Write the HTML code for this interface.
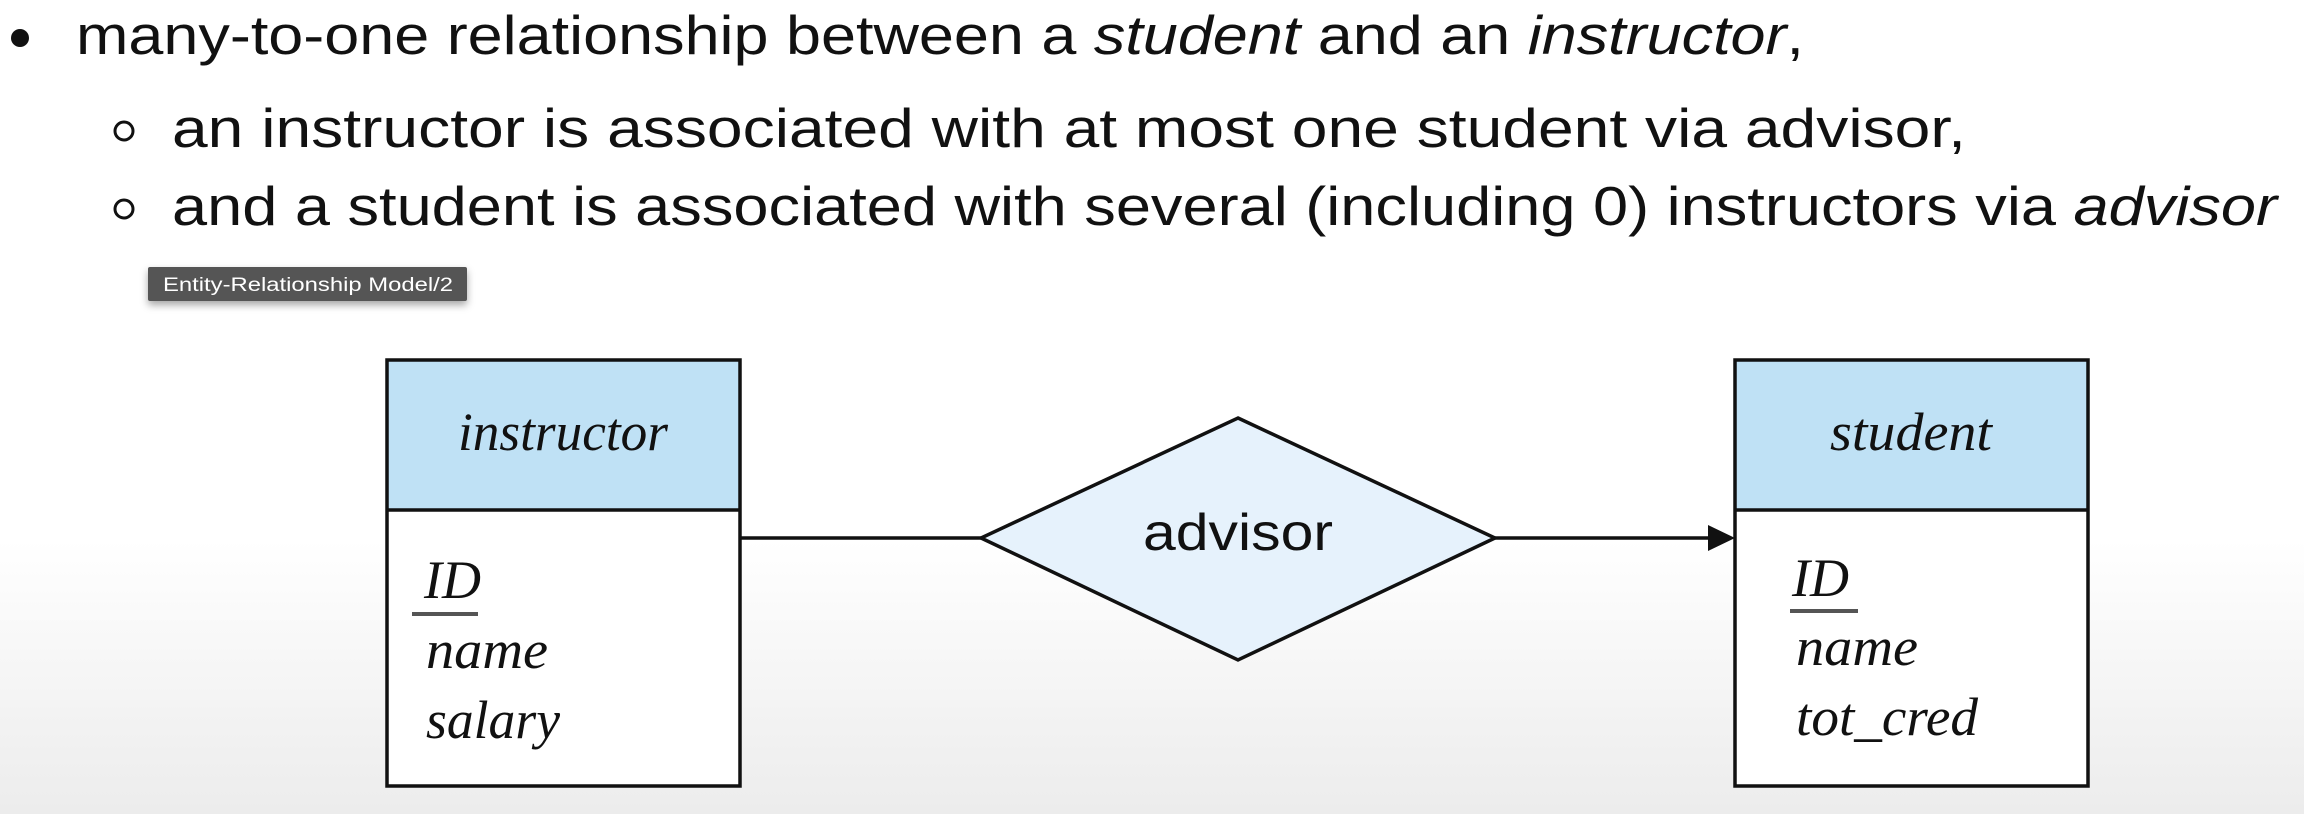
<!DOCTYPE html>
<html><head><meta charset="utf-8"><style>
html,body{margin:0;padding:0;width:2304px;height:814px;overflow:hidden}
body{background:linear-gradient(#fff 0,#fff 540px,#ececec 814px)}
</style></head><body>
<svg width="2304" height="814" xmlns="http://www.w3.org/2000/svg" style="position:absolute;left:0;top:0">
<defs>
<filter id="sh" x="-10%" y="-30%" width="130%" height="180%"><feDropShadow dx="0" dy="4" stdDeviation="4" flood-opacity="0.35"/></filter>
</defs>
<g font-family="Liberation Sans, sans-serif" font-size="55" fill="#111">
<circle cx="20" cy="38" r="9" fill="#111"/>
<text x="76" y="54" textLength="1728" lengthAdjust="spacingAndGlyphs">many-to-one relationship between a <tspan font-style="italic">student</tspan> and an <tspan font-style="italic">instructor</tspan>,</text>
<circle cx="124" cy="131" r="9" fill="none" stroke="#111" stroke-width="3"/>
<text x="172" y="147" textLength="1794" lengthAdjust="spacingAndGlyphs">an instructor is associated with at most one student via advisor,</text>
<circle cx="124" cy="209" r="9" fill="none" stroke="#111" stroke-width="3"/>
<text x="172" y="225" textLength="2105" lengthAdjust="spacingAndGlyphs">and a student is associated with several (including 0) instructors via <tspan font-style="italic">advisor</tspan></text>
</g>
<rect x="148" y="267" width="319" height="34" rx="2" fill="#555" filter="url(#sh)"/>
<text x="163" y="291" font-family="Liberation Sans, sans-serif" font-size="19" fill="#fff" textLength="290" lengthAdjust="spacingAndGlyphs">Entity-Relationship Model/2</text>

<!-- instructor -->
<rect x="387" y="360" width="353" height="150" fill="#bfe1f5"/>
<rect x="387" y="510" width="353" height="276" fill="#fff"/>
<rect x="387" y="360" width="353" height="426" fill="none" stroke="#111" stroke-width="3.5"/>
<line x1="387" y1="510" x2="740" y2="510" stroke="#111" stroke-width="3.5"/>
<g font-family="Liberation Serif, serif" font-style="italic" font-size="54" fill="#111">
<text x="458" y="450" textLength="210" lengthAdjust="spacingAndGlyphs">instructor</text>
<text x="424" y="598">ID</text>
<text x="426" y="668" textLength="122" lengthAdjust="spacingAndGlyphs">name</text>
<text x="426" y="738" textLength="134" lengthAdjust="spacingAndGlyphs">salary</text>
</g>
<line x1="412" y1="614" x2="478" y2="614" stroke="#555" stroke-width="4"/>

<!-- student -->
<rect x="1735" y="360" width="353" height="150" fill="#bfe1f5"/>
<rect x="1735" y="510" width="353" height="276" fill="#fff"/>
<rect x="1735" y="360" width="353" height="426" fill="none" stroke="#111" stroke-width="3.5"/>
<line x1="1735" y1="510" x2="2088" y2="510" stroke="#111" stroke-width="3.5"/>
<g font-family="Liberation Serif, serif" font-style="italic" font-size="54" fill="#111">
<text x="1830" y="450" textLength="162" lengthAdjust="spacingAndGlyphs">student</text>
<text x="1792" y="596">ID</text>
<text x="1796" y="665" textLength="122" lengthAdjust="spacingAndGlyphs">name</text>
<text x="1796" y="735" textLength="182" lengthAdjust="spacingAndGlyphs">tot_cred</text>
</g>
<line x1="1790" y1="611" x2="1858" y2="611" stroke="#555" stroke-width="4"/>

<!-- diamond -->
<line x1="740" y1="538" x2="981" y2="538" stroke="#111" stroke-width="3.5"/>
<line x1="1495" y1="538" x2="1714" y2="538" stroke="#111" stroke-width="3.5"/>
<polygon points="1735,538 1708,525 1708,551" fill="#111"/>
<polygon points="1238,418 1495,538 1238,660 981,538" fill="#e6f2fc" stroke="#111" stroke-width="3.5"/>
<text x="1238" y="550" text-anchor="middle" font-family="Liberation Sans, sans-serif" font-size="52" fill="#111" textLength="190" lengthAdjust="spacingAndGlyphs">advisor</text>
</svg>
</body></html>
